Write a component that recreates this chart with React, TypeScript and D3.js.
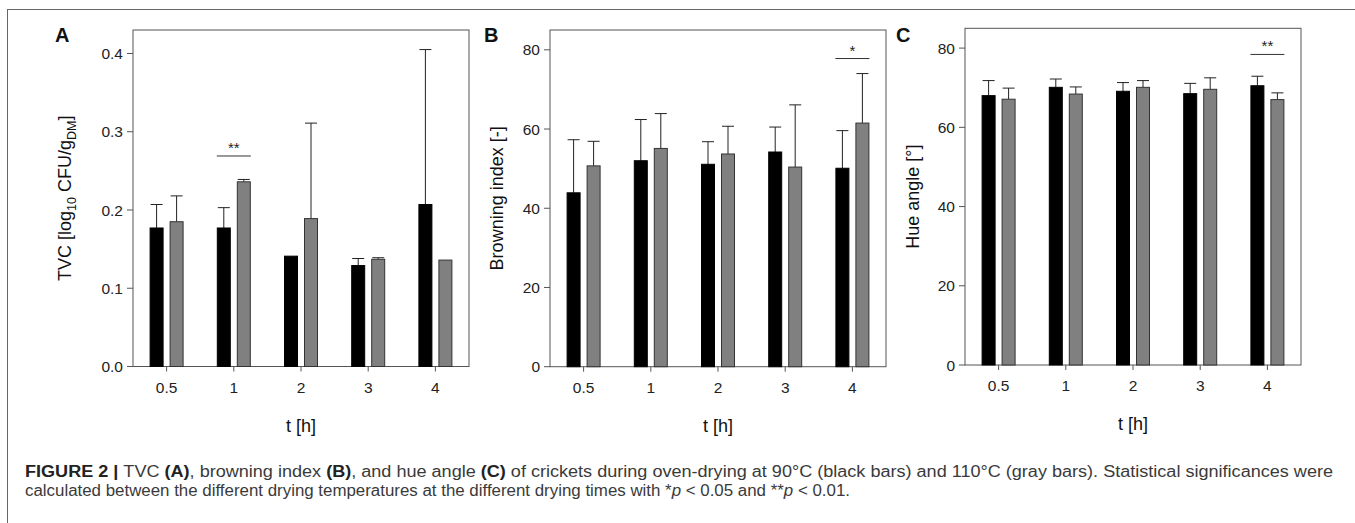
import React, { useEffect } from "react";
import * as d3 from "d3";

// ===== data =====
const times = ["0.5", "1", "2", "3", "4"];

const tvc90 = [0.177, 0.177, 0.141, 0.129, 0.207];
const tvc90Sd = [0.03, 0.026, 0, 0.009, 0.198];
const tvc110 = [0.185, 0.236, 0.189, 0.137, 0.136];
const tvc110Sd = [0.033, 0.003, 0.122, 0.002, 0];

const browning90 = [43.9, 52.0, 51.1, 54.2, 50.1];
const browning90Sd = [13.4, 10.4, 5.7, 6.3, 9.5];
const browning110 = [50.7, 55.1, 53.7, 50.4, 61.5];
const browning110Sd = [6.2, 8.8, 7.0, 15.7, 12.5];

const hue90 = [68.0, 70.1, 69.1, 68.5, 70.5];
const hue90Sd = [3.8, 2.1, 2.2, 2.6, 2.4];
const hue110 = [67.1, 68.4, 70.1, 69.6, 67.0];
const hue110Sd = [2.8, 1.8, 1.7, 2.9, 1.7];

const FONT = "'Liberation Sans', Arial, Helvetica, sans-serif";
const AXIS = "#555";

type PanelProps = {
  letter: string;
  left: number;
  top: number;
  bottom: number;
  yMax: number;
  fmt: string;
  a: number[];
  aSd: number[];
  b: number[];
  bSd: number[];
  sig: { index: number; level: number; label: string };
  yTitle: React.ReactNode;
  titleX: number;
  letterX: number;
};

function Panel(p: PanelProps) {
  const width = 336;
  const x = d3.scaleBand<string>().domain(times).range([p.left, p.left + width]);
  const y = d3.scaleLinear().domain([0, p.yMax]).range([p.bottom, p.top]);
  const fmt = d3.format(p.fmt);
  const bw = 13;
  const gap = 3.5;
  const cx = (t: string) => (x(t) as number) + x.bandwidth() / 2;

  // bar + upper error bar
  const bar = (t: string, v: number, sd: number, dx: number, fill: string, stroke: string, k: string) => {
    const x0 = cx(t) + dx;
    const xm = x0 + bw / 2;
    return (
      <g key={k}>
        {sd > 0 && (
          <g stroke="#222" strokeWidth={1}>
            <line x1={xm} x2={xm} y1={y(v)} y2={y(v + sd)} />
            <line x1={xm - 6} x2={xm + 6} y1={y(v + sd)} y2={y(v + sd)} />
          </g>
        )}
        <rect x={x0} y={y(v)} width={bw} height={y(0) - y(v)} fill={fill} stroke={stroke} strokeWidth={1} />
      </g>
    );
  };

  const sc = cx(times[p.sig.index]);

  return (
    <g fontFamily={FONT}>
      <text x={p.letterX} y={42} fontSize={20} fontWeight="bold" fill="#111">
        {p.letter}
      </text>
      <rect x={p.left} y={p.top} width={width} height={p.bottom - p.top} fill="none" stroke={AXIS} strokeWidth={1} />
      {times.map((t, i) => (
        <g key={t}>
          {bar(t, p.a[i], p.aSd[i], -gap - bw, "#000", "#000", "a" + i)}
          {bar(t, p.b[i], p.bSd[i], gap, "#808080", "#333", "b" + i)}
        </g>
      ))}
      {y.ticks(5).map((v) => (
        <g key={v}>
          <line x1={p.left - 6} x2={p.left} y1={y(v)} y2={y(v)} stroke={AXIS} />
          <text x={p.left - 10} y={y(v)} dy="0.36em" textAnchor="end" fontSize={15.5} fill="#222">
            {fmt(v)}
          </text>
        </g>
      ))}
      {times.map((t) => (
        <g key={t}>
          <line x1={cx(t)} x2={cx(t)} y1={p.bottom} y2={p.bottom + 5} stroke={AXIS} />
          <text x={cx(t)} y={p.bottom + 26} textAnchor="middle" fontSize={15.5} fill="#222">
            {t}
          </text>
        </g>
      ))}
      <text x={p.left + width / 2} y={p.bottom + 65} textAnchor="middle" fontSize={18} fill="#111">
        t [h]
      </text>
      <text
        transform={`translate(${p.titleX},${(p.top + p.bottom) / 2}) rotate(-90)`}
        textAnchor="middle"
        fontSize={18}
        fill="#111"
      >
        {p.yTitle}
      </text>
      <line x1={sc - 17} x2={sc + 17} y1={y(p.sig.level)} y2={y(p.sig.level)} stroke="#333" />
      <text x={sc} y={y(p.sig.level) - 3} textAnchor="middle" fontSize={15} fill="#222">
        {p.sig.label}
      </text>
    </g>
  );
}

export default function App() {
  useEffect(() => {
    document.body.style.margin = "0";
  }, []);

  return (
    <svg width={1355} height={523} style={{ display: "block", background: "#fff" }}>
      <rect x={7.5} y={9.5} width={1400} height={600} fill="none" stroke="#666" strokeWidth={1} />
      <Panel
        letter="A"
        letterX={55}
        left={133}
        top={30}
        bottom={366.5}
        yMax={0.43}
        fmt=".1f"
        a={tvc90}
        aSd={tvc90Sd}
        b={tvc110}
        bSd={tvc110Sd}
        sig={{ index: 1, level: 0.269, label: "**" }}
        titleX={71}
        yTitle={
          <>
            TVC [log
            <tspan fontSize={12.5} dy={5}>10</tspan>
            <tspan dy={-5}> CFU/g</tspan>
            <tspan fontSize={12.5} dy={5}>DM</tspan>
            <tspan dy={-5}>]</tspan>
          </>
        }
      />
      <Panel
        letter="B"
        letterX={484}
        left={550}
        top={30}
        bottom={366.7}
        yMax={85}
        fmt="d"
        a={browning90}
        aSd={browning90Sd}
        b={browning110}
        bSd={browning110Sd}
        sig={{ index: 4, level: 77.8, label: "*" }}
        titleX={503}
        yTitle="Browning index [-]"
      />
      <Panel
        letter="C"
        letterX={896}
        left={965}
        top={28.3}
        bottom={365}
        yMax={85}
        fmt="d"
        a={hue90}
        aSd={hue90Sd}
        b={hue110}
        bSd={hue110Sd}
        sig={{ index: 4, level: 78.4, label: "**" }}
        titleX={919}
        yTitle="Hue angle [°]"
      />
      <g fontFamily={FONT} fontSize={16} fill="#3a3a3a">
        <text x={25} y={477} textLength={1308} lengthAdjust="spacingAndGlyphs">
          <tspan fontWeight="bold" fill="#222">FIGURE 2 | </tspan>
          TVC <tspan fontWeight="bold" fill="#222">(A)</tspan>, browning index{" "}
          <tspan fontWeight="bold" fill="#222">(B)</tspan>, and hue angle{" "}
          <tspan fontWeight="bold" fill="#222">(C)</tspan> of crickets during oven-drying at 90°C (black bars) and
          110°C (gray bars). Statistical significances were
        </text>
        <text x={25} y={496} textLength={825} lengthAdjust="spacingAndGlyphs">
          calculated between the different drying temperatures at the different drying times with *
          <tspan fontStyle="italic">p</tspan> &lt; 0.05 and **<tspan fontStyle="italic">p</tspan> &lt; 0.01.
        </text>
      </g>
    </svg>
  );
}
